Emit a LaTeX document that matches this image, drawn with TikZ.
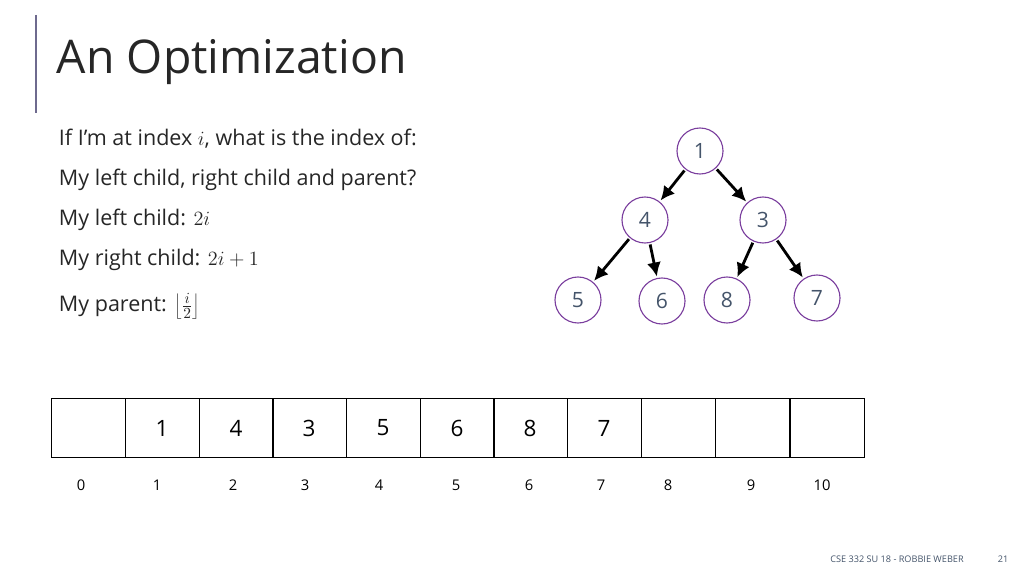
\documentclass[tikz,border=0pt]{standalone}
\usepackage{fontspec}
\setmainfont{Open Sans}
\usetikzlibrary{positioning,arrows.meta}
\definecolor{heappurple}{HTML}{7B3F9E}
\definecolor{heaptext}{HTML}{44546A}
\definecolor{barcol}{HTML}{6E6A8E}
\definecolor{titlecol}{HTML}{262626}
\tikzset{
    x=0.025cm, y=-0.025cm,
    heapnode/.style = {
        draw=heappurple,
        shape=circle,
        minimum size=46*0.025cm,
        line width=0.8pt,
        text=heaptext,
        font=\fontsize{15}{15}\selectfont
    },
    cell/.style = {
        draw,
        shape=rectangle,
        minimum height=59*0.025cm,
        minimum width=74*0.025cm,
        line width=0.6pt,
        font=\fontsize{16}{16}\selectfont
    },
    idx/.style = {
        font=\fontsize{10.5}{10.5}\selectfont
    },
    body/.style = {
        anchor=west,
        text=titlecol,
        font=\fontsize{15.3}{15.3}\selectfont
    },
    edge/.style = {
        draw,
        line width=2pt,
        -{Latex[length=10pt,width=10pt]},
        shorten <=1pt,
        shorten >=1pt
    },
}
\begin{document}
\begin{tikzpicture}
    \useasboundingbox (0,0) rectangle (1024,576);
    \draw[barcol, line width=1pt] (36,15) -- (36,113);
    \node[anchor=west, text=titlecol, font=\fontsize{33}{33}\selectfont] (title) at (52,62) {An Optimization};

    \node[body] (l1) at (54,139) {If I’m at index $i$, what is the index of:};
    \node[body] (l2) at (54,180) {My left child, right child and parent?};
    \node[body] (l3) at (54,220) {My left child: $2i$};
    \node[body] (l4) at (54,260) {My right child: $2i+1$};
    \node[body] (l5) at (54,306) {My parent: $\left\lfloor\frac{i}{2}\right\rfloor$};

    \node[heapnode] (n1) at (700,151) {1};
    \node[heapnode] (n4) at (645,220) {4};
    \node[heapnode] (n3) at (763,220) {3};
    \node[heapnode] (n5) at (578,300) {5};
    \node[heapnode] (n6) at (662,301) {6};
    \node[heapnode] (n8) at (727,300) {8};
    \node[heapnode] (n7) at (817,298) {7};

    \path[edge] (n1) -- (n4);
    \path[edge] (n1) -- (n3);
    \path[edge] (n4) -- (n5);
    \path[edge] (n4) -- (n6);
    \path[edge] (n3) -- (n8);
    \path[edge] (n3) -- (n7);

    % array cells and indices
    \foreach \i/\x/\v/\ix in {0/88/{}/81, 1/162/1/157, 2/236/4/233, 3/309/3/305,
        4/383/5/379, 5/457/6/456, 6/530/8/529, 7/604/7/601, 8/678/{}/668,
        9/752/{}/751, 10/827/{}/822} {
        \node[cell] (c\i) at (\x,428) {\v};
        \node[idx] (i\i) at (\ix,485) {\i};
    }

    \node[font=\fontsize{6.5}{6.5}\selectfont, text=heaptext] (foot) at (897,559) {CSE 332 SU 18 - ROBBIE WEBER};
    \node[font=\fontsize{6.5}{6.5}\selectfont, text=heaptext] (page) at (1003,559) {21};
\end{tikzpicture}
\end{document}
